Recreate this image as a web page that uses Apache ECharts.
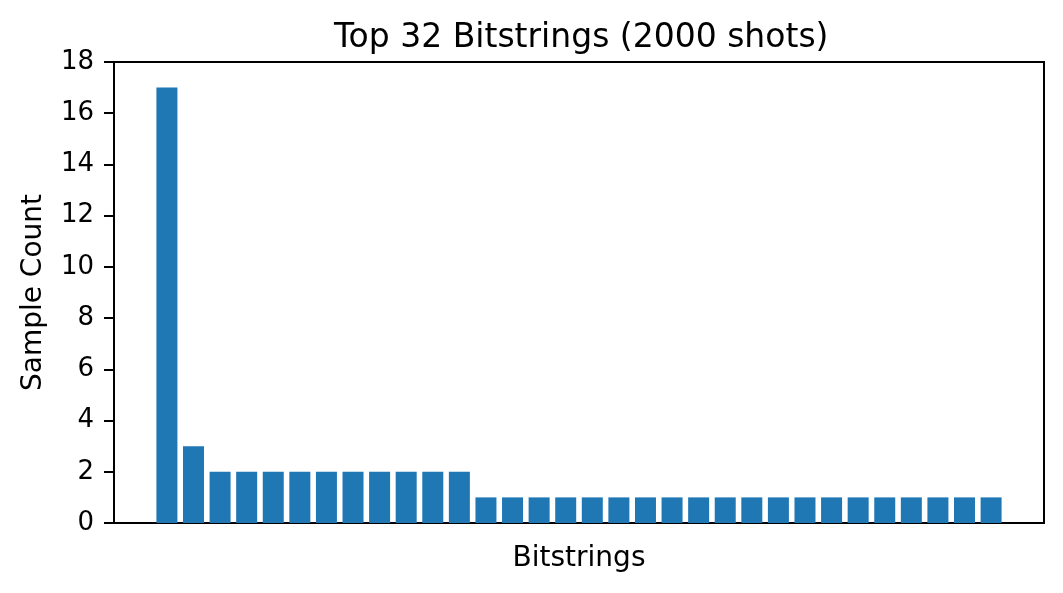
<!DOCTYPE html>
<html>
<head>
<meta charset="utf-8">
<script src="https://cdn.jsdelivr.net/npm/echarts@6/dist/echarts.min.js"></script>
<style>html,body{margin:0;padding:0;background:#fff;}#c{width:1063px;height:593px;}</style>
</head>
<body>
<div id="c"></div>
<script>
const title = 'Top 32 Bitstrings (2000 shots)';
const xName = 'Bitstrings';
const yName = 'Sample Count';
const counts = [17, 3, 2, 2, 2, 2, 2, 2, 2, 2, 2, 2, 1, 1, 1, 1, 1, 1, 1, 1, 1, 1, 1, 1, 1, 1, 1, 1, 1, 1, 1, 1];
const yTicks = [0, 2, 4, 6, 8, 10, 12, 14, 16, 18];

const n = counts.length;
const span = (n - 1) + 0.8;
const pad = span * 0.05;
const chart = echarts.init(document.getElementById('c'), null, {renderer: 'canvas'});
const font = 'DejaVu Sans';
chart.setOption({
  animation: false,
  backgroundColor: '#fff',
  title: {
    text: title, left: 329, top: 17,
    textStyle: {fontFamily: font, fontSize: 33, fontWeight: 'normal', color: '#000'}
  },
  grid: {left: 114, right: 19, top: 62, bottom: 70, show: true, borderColor: '#000', borderWidth: 2,
         containLabel: false, outerBoundsMode: 'none'},
  xAxis: {
    type: 'value', min: -0.4 - pad, max: (n - 1) + 0.4 + pad,
    name: xName, nameLocation: 'middle', nameGap: 22,
    nameTextStyle: {fontFamily: font, fontSize: 28, color: '#000'},
    axisLine: {show: true, onZero: false, lineStyle: {color: '#000', width: 2}},
    axisTick: {show: false}, axisLabel: {show: false}, splitLine: {show: false}
  },
  yAxis: {
    type: 'value', min: yTicks[0], max: yTicks[yTicks.length - 1], interval: 2,
    name: yName, nameLocation: 'middle', nameGap: 66, nameRotate: 90,
    nameTextStyle: {fontFamily: font, fontSize: 28, color: '#000'},
    axisLine: {show: true, onZero: false, lineStyle: {color: '#000', width: 2}},
    axisTick: {show: true, inside: false, length: 10, lineStyle: {color: '#000', width: 2}},
    axisLabel: {fontFamily: font, fontSize: 26, color: '#000', margin: 20},
    splitLine: {show: false}
  },
  series: [{
    type: 'bar',
    data: counts.map((v, i) => [i, v]),
    barWidth: 21,
    itemStyle: {color: '#1f77b4'}
  }]
});
</script>
</body>
</html>
